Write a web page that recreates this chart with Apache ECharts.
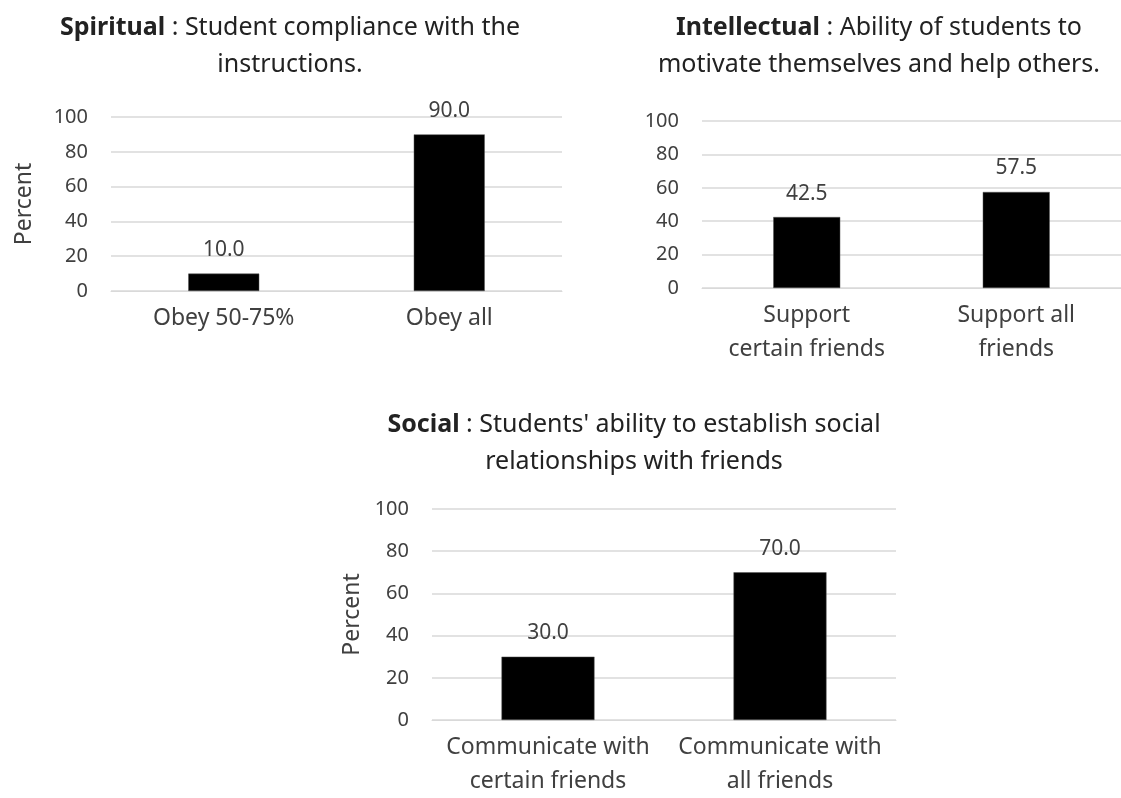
<!DOCTYPE html>
<html>
<head>
<meta charset="utf-8">
<title>Student development</title>
<script src="https://cdn.jsdelivr.net/npm/echarts@6/dist/echarts.min.js"></script>
<style>
  html, body { margin: 0; padding: 0; background: #fff; }
  #main { width: 1121px; height: 798px; }
</style>
</head>
<body>
<div id="main"></div>
<script>
// data
const spiritualCats = ["Obey 50-75%", "Obey all"];
const spiritualVals = [10.0, 90.0];
const intellectualCats = ["Support\ncertain friends", "Support all\nfriends"];
const intellectualVals = [42.5, 57.5];
const socialCats = ["Communicate with\ncertain friends", "Communicate with\nall friends"];
const socialVals = [30.0, 70.0];
const yMin = 0, yMax = 100, yStep = 20;

const FONT = "Noto Sans";
const textColor = "#404040";

function makeTitle(bold, rest, x, y) {
  return {
    text: "{b|" + bold + "} : " + rest,
    left: x,
    top: y,
    textAlign: "center",
    textStyle: {
      fontFamily: FONT,
      fontSize: 25,
      fontWeight: "normal",
      color: "#222",
      lineHeight: 37,
      rich: {
        b: { fontFamily: FONT, fontSize: 25, fontWeight: "bold", color: "#222", lineHeight: 37 }
      }
    }
  };
}

function makeX(idx, cats) {
  return {
    type: "category",
    gridIndex: idx,
    data: cats,
    axisLine: { show: true, lineStyle: { color: "#d9d9d9", width: 1 } },
    axisTick: { show: false },
    axisLabel: {
      fontFamily: FONT,
      fontSize: 23,
      color: textColor,
      lineHeight: 34,
      margin: 10,
      interval: 0
    }
  };
}

function makeY(idx, name, gap) {
  return {
    type: "value",
    gridIndex: idx,
    min: yMin,
    max: yMax,
    interval: yStep,
    name: name,
    nameLocation: "middle",
    nameGap: gap,
    nameTextStyle: { fontFamily: FONT, fontSize: 23, color: textColor },
    axisLine: { show: false },
    axisTick: { show: false },
    axisLabel: { fontFamily: FONT, fontSize: 20, color: textColor, margin: 23 },
    splitLine: { show: true, lineStyle: { color: "#d9d9d9", width: 1.5 } }
  };
}

function makeBar(idx, vals, w) {
  return {
    type: "bar",
    xAxisIndex: idx,
    yAxisIndex: idx,
    data: vals,
    barWidth: w,
    itemStyle: { color: "#000", borderColor: "#555", borderWidth: 0.5 },
    label: {
      show: true,
      position: "top",
      distance: 13,
      fontFamily: FONT,
      fontSize: 21,
      color: textColor,
      formatter: (p) => p.value.toFixed(1)
    }
  };
}

const chart = echarts.init(document.getElementById("main"));
chart.setOption({
  animation: false,
  title: [
    makeTitle("Spiritual", "Student compliance with the\ninstructions.", 285, 4),
    makeTitle("Intellectual", "Ability of students to\nmotivate themselves and help others.", 874, 4),
    makeTitle("Social", "Students' ability to establish social\nrelationships with friends", 629, 401)
  ],
  grid: [
    { left: 111, top: 117, width: 451, height: 174 },
    { left: 702, top: 121, width: 428, height: 167 },
    { left: 432, top: 509, width: 464, height: 217 }
  ],
  xAxis: [
    makeX(0, spiritualCats),
    makeX(1, intellectualCats),
    makeX(2, socialCats)
  ],
  yAxis: [
    makeY(0, "Percent", 75),
    makeY(1, "", 0),
    makeY(2, "Percent", 68)
  ],
  series: [
    makeBar(0, spiritualVals, 71),
    makeBar(1, intellectualVals, 67),
    makeBar(2, socialVals, 93)
  ]
});
</script>
</body>
</html>
